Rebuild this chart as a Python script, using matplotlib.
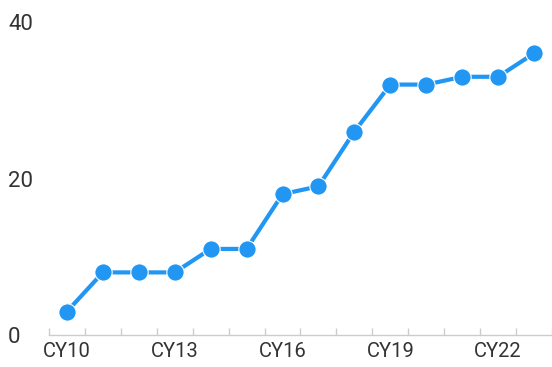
import matplotlib.pyplot as plt
import numpy as np

years = ["CY10", "CY11", "CY12", "CY13", "CY14", "CY15", "CY16",
         "CY17", "CY18", "CY19", "CY20", "CY21", "CY22", "CY23"]
values = [3, 8, 8, 8, 11, 11, 18, 19, 26, 32, 32, 33, 33, 36]
yticks = [0, 20, 40]

plt.rcParams['font.family'] = ['Roboto', 'DejaVu Sans']

fig = plt.figure(figsize=(5.52, 3.67), dpi=100)
ax = fig.add_axes([49 / 552, 1 - 335 / 367, 1 - 49 / 552, (335 - 22) / 367])

x = np.arange(len(years))
ax.plot(x, values, color="#2196F3", linewidth=3, marker="o", markersize=12.5,
        markeredgecolor="white", markeredgewidth=0.8, clip_on=False, zorder=3)

ax.set_xlim(-0.5, len(years) - 0.5)
ax.set_ylim(0, 40)

ax.set_xticks(x[::3])
ax.set_xticklabels(years[::3])
ax.set_xticks(np.arange(len(years) + 1) - 0.5, minor=True)
ax.tick_params(axis="x", which="major", length=0, pad=5, labelsize=14.5, labelcolor="#333333")
ax.tick_params(axis="x", which="minor", direction="in", length=5, color="#cccccc", width=1)

ax.set_yticks(yticks)
ax.tick_params(axis="y", length=0, pad=29.5, labelsize=16, labelcolor="#333333")
for lbl in ax.get_yticklabels():
    lbl.set_horizontalalignment("left")

for s in ["top", "right", "left"]:
    ax.spines[s].set_visible(False)
ax.spines["bottom"].set_color("#cccccc")
ax.spines["bottom"].set_linewidth(1)

fig.savefig("out.png", dpi=100)
